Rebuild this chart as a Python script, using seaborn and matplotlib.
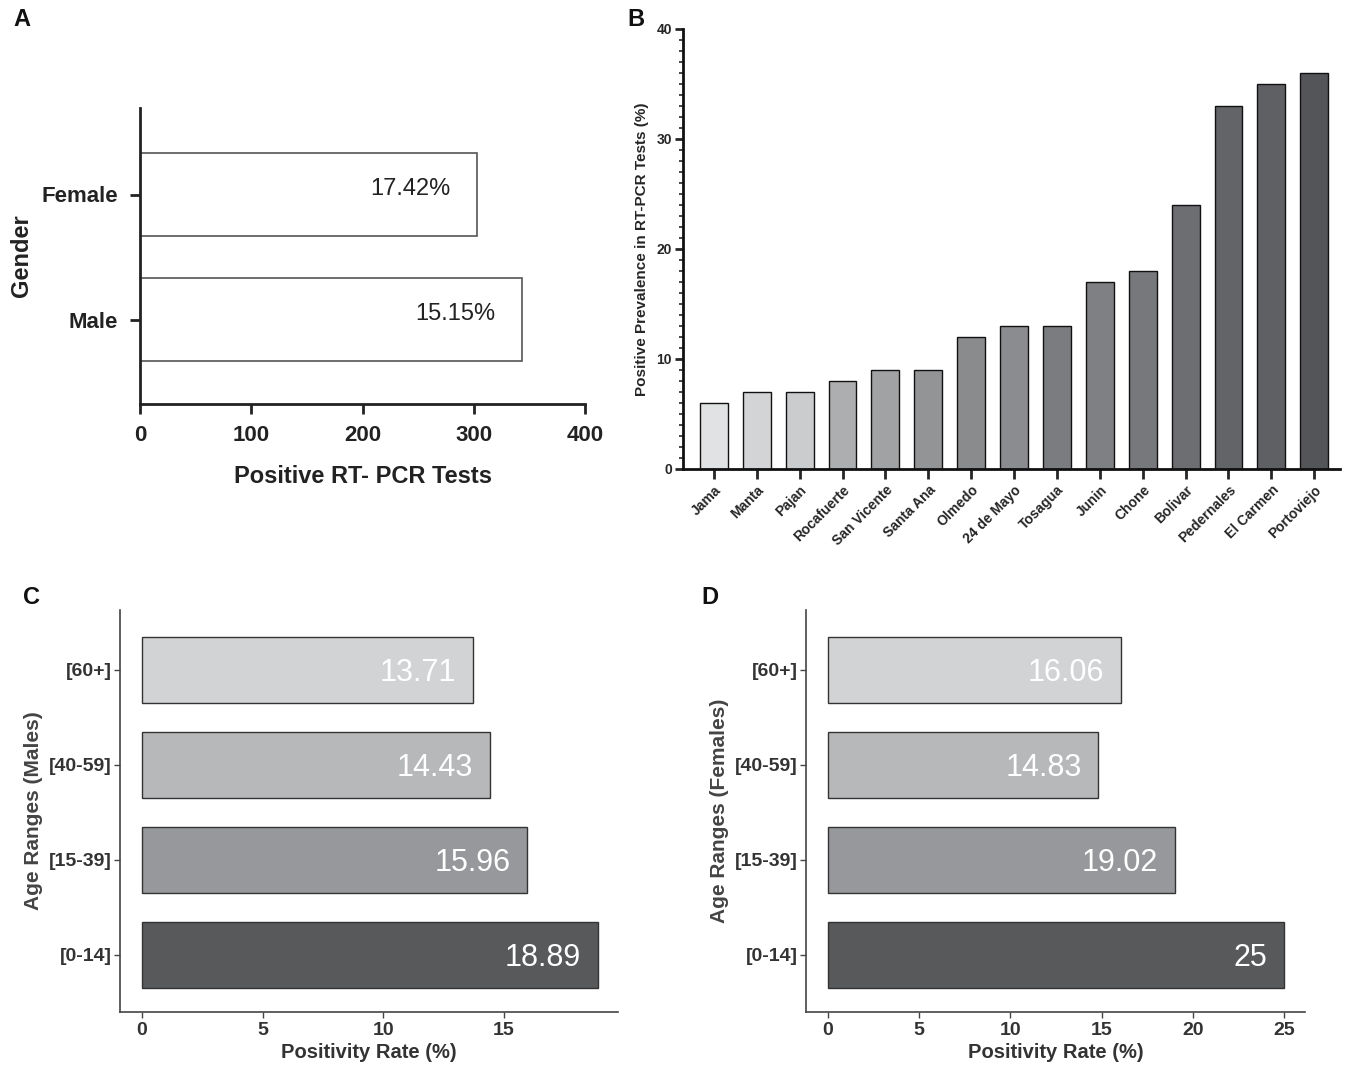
import matplotlib
matplotlib.use("Agg")
import matplotlib.pyplot as plt
from matplotlib.ticker import MultipleLocator
import seaborn as sns
import pandas as pd

# Panel A: positive RT-PCR tests by gender
genders = ["Female", "Male"]
gender_tests = [303, 343]
gender_rates = ["17.42%", "15.15%"]

# Panel B: prevalence by canton
cantons = ["Jama", "Manta", "Pajan", "Rocafuerte", "San Vicente", "Santa Ana",
           "Olmedo", "24 de Mayo", "Tosagua", "Junin", "Chone", "Bolivar",
           "Pedernales", "El Carmen", "Portoviejo"]
canton_prev = [6, 7, 7, 8, 9, 9, 12, 13, 13, 17, 18, 24, 33, 35, 36]
canton_colors = ["#e1e2e3", "#d3d4d5", "#cbcccd", "#adaeb0", "#a1a2a4", "#939496",
                 "#8a8b8d", "#8b8c8f", "#7b7c7f", "#7f8083", "#77787b", "#6d6e71",
                 "#636467", "#5f6063", "#545558"]

# Panels C and D: positivity rate by age range
age_ranges = ["[60+]", "[40-59]", "[15-39]", "[0-14]"]
male_rates = [13.71, 14.43, 15.96, 18.89]
female_rates = [16.06, 14.83, 19.02, 25]
age_colors = ["#d2d3d5", "#b7b8ba", "#97989b", "#58595b"]

sns.set_theme(style="ticks")
plt.rcParams["font.family"] = ["Liberation Sans", "DejaVu Sans"]
narrow = ["Liberation Sans Narrow", "Liberation Sans", "DejaVu Sans"]

fig = plt.figure(figsize=(13.46, 10.66), dpi=100)
W, H = 1346, 1066


def box(left, top, right, bottom):
    return [left / W, 1 - bottom / H, (right - left) / W, (bottom - top) / H]


# ---------- A ----------
axA = fig.add_axes(box(140, 108, 585, 404))
dfA = pd.DataFrame({"gender": genders, "tests": gender_tests})
sns.barplot(data=dfA, x="tests", y="gender", orient="h", color="white",
            edgecolor="#555555", linewidth=1.2, width=0.66, ax=axA)
axA.set_xlim(0, 400)
axA.set_ylim(1.676, -0.692)
axA.xaxis.set_major_locator(MultipleLocator(100))
for sp in ["top", "right"]:
    axA.spines[sp].set_visible(False)
for sp in ["left", "bottom"]:
    axA.spines[sp].set_linewidth(2)
    axA.spines[sp].set_color("#222222")
axA.tick_params(axis="both", length=7, width=2, color="#222222", labelsize=16)
axA.tick_params(axis="x", pad=8)
axA.tick_params(axis="y", pad=9)
for lbl in axA.get_xticklabels() + axA.get_yticklabels():
    lbl.set_fontweight("bold")
    lbl.set_color("#222222")
axA.set_xlabel("Positive RT- PCR Tests", fontsize=17, fontweight="bold",
               color="#222222", labelpad=14)
axA.set_ylabel("Gender", fontsize=17, fontweight="bold", color="#222222", labelpad=6)
for p, txt in zip(axA.patches, gender_rates):
    axA.annotate(txt, (p.get_width(), p.get_y() + p.get_height() / 2),
                 xytext=(-19, 4), textcoords="offset points", ha="right",
                 va="center", fontsize=17, color="#222222")

# ---------- B ----------
axB = fig.add_axes(box(683, 29, 1340, 469))
dfB = pd.DataFrame({"canton": cantons, "prev": canton_prev})
sns.barplot(data=dfB, x="canton", y="prev", hue="canton", palette=canton_colors,
            legend=False, edgecolor="#111111", linewidth=1.0, width=0.65,
            saturation=1, ax=axB)
axB.set_ylim(0, 40)
axB.set_xlim(-0.72, 14.6)
axB.yaxis.set_major_locator(MultipleLocator(10))
axB.yaxis.set_minor_locator(MultipleLocator(1))
for sp in ["top", "right"]:
    axB.spines[sp].set_visible(False)
for sp in ["left", "bottom"]:
    axB.spines[sp].set_linewidth(2)
    axB.spines[sp].set_color("#111111")
axB.tick_params(axis="y", which="major", length=6, width=2, labelsize=10, pad=2)
axB.tick_params(axis="y", which="minor", length=3, width=1.2)
axB.tick_params(axis="x", length=7, width=2, labelsize=10, pad=3)
axB.set_xticks(range(len(cantons)))
axB.set_xticklabels(cantons, rotation=45, ha="right", rotation_mode="anchor",
                    fontweight="bold", family=narrow)
for lbl in axB.get_yticklabels():
    lbl.set_fontweight("bold")
    lbl.set_family(narrow)
axB.set_xlabel("")
axB.set_ylabel("Positive Prevalence in RT-PCR Tests (%)", fontsize=11,
               fontweight="bold", labelpad=5)


# ---------- C and D ----------
def age_panel(ax, rates, xmin, xmax, step, ylabel):
    df = pd.DataFrame({"age": age_ranges, "rate": rates})
    sns.barplot(data=df, x="rate", y="age", orient="h", hue="age",
                palette=age_colors, legend=False, edgecolor="#333333",
                linewidth=1.0, width=0.7, saturation=1, ax=ax)
    ax.set_xlim(xmin, xmax)
    ax.set_ylim(3.6, -0.63)
    ax.xaxis.set_major_locator(MultipleLocator(step))
    for sp in ["top", "right"]:
        ax.spines[sp].set_visible(False)
    for sp in ["left", "bottom"]:
        ax.spines[sp].set_linewidth(1.2)
        ax.spines[sp].set_color("#444444")
    ax.tick_params(axis="both", length=4, width=1, color="#444444",
                   labelsize=14, labelcolor="#333333", pad=2)
    ax.tick_params(axis="x", pad=3)
    for lbl in ax.get_xticklabels() + ax.get_yticklabels():
        lbl.set_fontweight("bold")
        lbl.set_family(narrow)
    ax.set_xlabel("Positivity Rate (%)", fontsize=14.5, fontweight="bold",
                  color="#333333", labelpad=3)
    ax.set_ylabel(ylabel, fontsize=15, fontweight="bold", color="#444444",
                  labelpad=4)
    for p, v in zip(ax.patches, rates):
        ax.annotate(f"{v:g}", (p.get_width(), p.get_y() + p.get_height() / 2),
                    xytext=(-12, -2), textcoords="offset points", ha="right",
                    va="center", fontsize=22, color="white", family=narrow)


axC = fig.add_axes(box(120, 610, 618, 1012))
age_panel(axC, male_rates, -0.91, 19.73, 5, "Age Ranges (Males)")
axD = fig.add_axes(box(806, 610, 1305, 1012))
age_panel(axD, female_rates, -1.2, 26.15, 5, "Age Ranges (Females)")

# panel letters
for letter, x, y in [("A", 22, 20), ("B", 636, 20), ("C", 32, 597), ("D", 710, 597)]:
    fig.text(x / W, 1 - y / H, letter, fontsize=17, fontweight="bold",
             ha="center", va="center", color="#111111")

fig.savefig("out.png", dpi=100)
